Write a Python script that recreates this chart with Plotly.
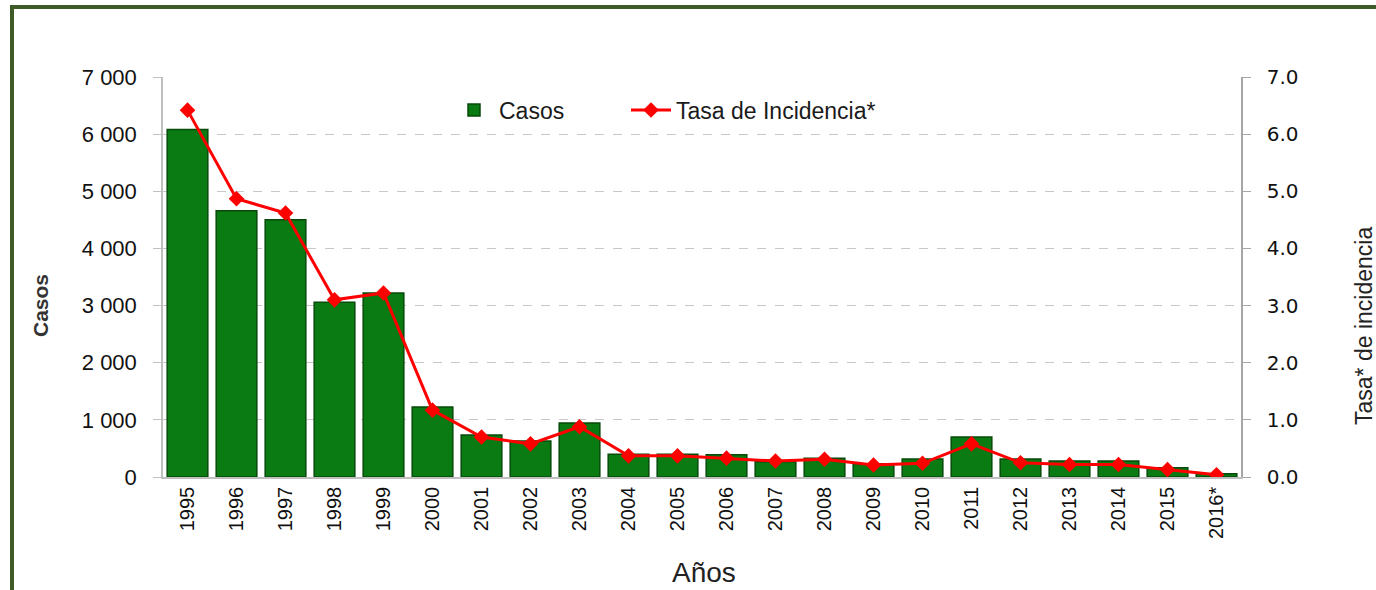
import plotly.graph_objects as go

years = ["1995", "1996", "1997", "1998", "1999", "2000", "2001", "2002", "2003", "2004", "2005",
         "2006", "2007", "2008", "2009", "2010", "2011", "2012", "2013", "2014", "2015", "2016*"]
casos = [6080, 4660, 4500, 3060, 3220, 1225, 735, 630, 945, 400, 400,
         390, 265, 330, 230, 315, 700, 315, 280, 280, 160, 55]
tasa = [6.42, 4.87, 4.62, 3.10, 3.22, 1.17, 0.70, 0.58, 0.88, 0.37, 0.37,
        0.33, 0.28, 0.31, 0.21, 0.24, 0.58, 0.25, 0.22, 0.22, 0.13, 0.04]

L, R, T, B = 163, 1241, 77, 477
W, H = 1376, 590

def px_to_paper(xp, yp):
    return (xp - L) / (R - L), (B - yp) / (B - T)

font_main = "Liberation Sans, Arial, sans-serif"

fig = go.Figure()
fig.add_trace(go.Bar(
    x=years, y=casos, name="Casos", legend="legend",
    marker=dict(color="#0a7a12", line=dict(color="#074a0a", width=1.5)),
))
fig.add_trace(go.Scatter(
    x=years, y=tasa, name="Tasa de Incidencia*", yaxis="y2", legend="legend2",
    mode="lines+markers",
    line=dict(color="#ff0000", width=3),
    marker=dict(symbol="diamond", size=12, color="#ff0000"),
))

leg_common = dict(orientation="h", yanchor="middle", xanchor="left",
                  font=dict(size=23, family=font_main, color="#1a1a1a"),
                  bgcolor="rgba(0,0,0,0)", itemwidth=40)
lx1, ly = px_to_paper(449, 110)
lx2, _ = px_to_paper(626, 110)

fig.update_layout(
    width=W, height=H,
    margin=dict(l=L, r=W - R, t=T, b=H - B),
    paper_bgcolor="white", plot_bgcolor="white",
    separators=". ",
    bargap=0.17,
    font=dict(family=font_main, color="#222222"),
    showlegend=True,
    legend=dict(x=lx1, y=ly, **leg_common),
    legend2=dict(x=lx2, y=ly, **leg_common),
    xaxis=dict(type="category", range=[-0.5, len(years) - 0.5], tickangle=-90,
               tickfont=dict(size=20, color="#111111"),
               showline=True, linecolor="#bfbfbf", linewidth=1.5, ticks="", showgrid=False),
    yaxis=dict(range=[0, 7000], dtick=1000, tickformat=",d",
               tickfont=dict(size=22, color="#111111"), ticklabelstandoff=12,
               showline=True, linecolor="#bfbfbf", linewidth=1.5,
               ticks="outside", ticklen=8, tickcolor="#bfbfbf",
               showgrid=True, gridcolor="#c8c8c8", griddash="dash", gridwidth=1.2,
               zeroline=False),
    yaxis2=dict(range=[0, 7], dtick=1, tickformat=".1f", overlaying="y", side="right",
                tickfont=dict(size=20, color="#111111", family="DejaVu Sans, sans-serif"),
                ticklabelstandoff=12,
                showline=True, linecolor="#a6a6a6", linewidth=1.5,
                ticks="outside", ticklen=8, tickcolor="#a6a6a6",
                showgrid=False, zeroline=False),
)

anns = []
for txt, xp, yp, ang, sz, bold in [("Casos", 40, 306, -90, 21, True),
                                   ("Tasa* de incidencia", 1364, 326, -90, 23, False),
                                   ("Años", 704, 572, 0, 28, False)]:
    px, py = px_to_paper(xp, yp)
    anns.append(dict(text=("<b>%s</b>" % txt) if bold else txt,
                     x=px, y=py, xref="paper", yref="paper", showarrow=False,
                     textangle=ang, xanchor="center", yanchor="middle",
                     font=dict(size=sz, color="#333333" if bold else "#222222", family=font_main)))
fig.update_layout(annotations=anns)

# dark green frame around the chart
fx0, _ = px_to_paper(12, 0)
_, fy1 = px_to_paper(0, 7)
fig.add_shape(type="rect", xref="paper", yref="paper", x0=fx0, x1=1.5, y0=-0.6, y1=fy1,
              line=dict(color="#3d5a27", width=4), fillcolor="rgba(0,0,0,0)", layer="below")

fig.write_html("out.html", config={"displayModeBar": False},
               post_script="document.body.style.margin='0';")
